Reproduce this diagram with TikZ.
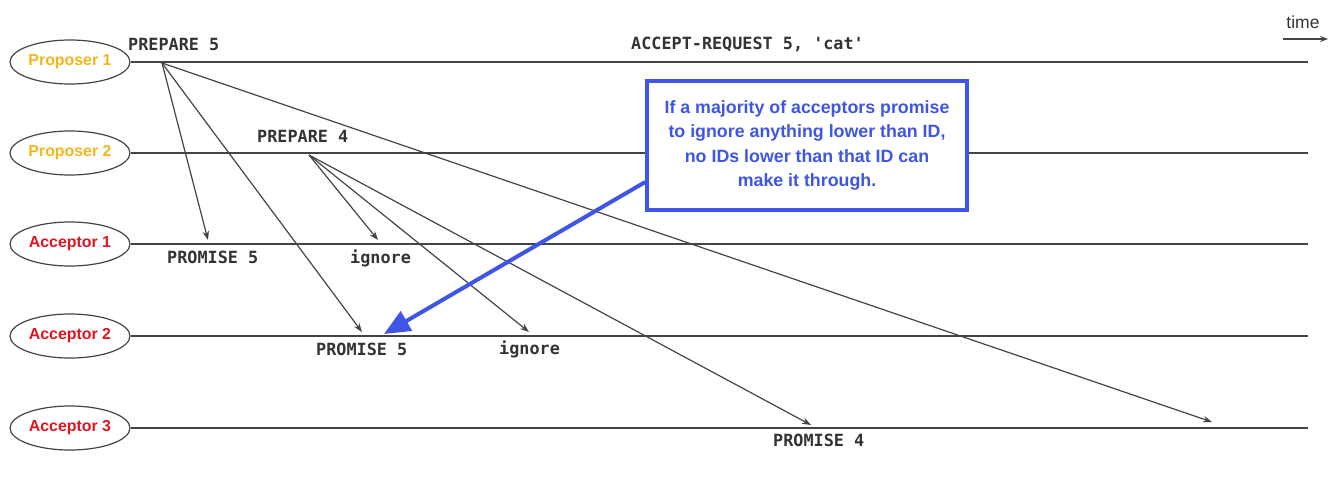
\documentclass[tikz,border=0pt]{standalone}
\usepackage{fontspec}
\setmainfont{Liberation Sans}
\newfontfamily\monof{DejaVu Sans Mono}
\usetikzlibrary{shapes.geometric,arrows.meta}
\definecolor{propc}{HTML}{F2B619}
\definecolor{accc}{HTML}{E0141E}
\definecolor{linec}{HTML}{444444}
\definecolor{txtc}{HTML}{333333}
\definecolor{bluec}{HTML}{3F55E6}
\tikzset{
  actor/.style={ellipse,draw=linec,line width=1.2pt,minimum width=120pt,minimum height=44pt,inner sep=0pt,font=\fontsize{15.9}{18}\selectfont\bfseries},
  timeline/.style={draw=linec,line width=1.3pt},
  msg/.style={draw=linec,line width=1.2pt,-{Stealth[length=9pt,width=6.5pt]}},
  lbl/.style={anchor=west,inner sep=0pt,text=txtc,font=\monof\fontsize{16.8}{18}\selectfont\bfseries},
  note/.style={draw=bluec,line width=3.5pt,fill=white,text=bluec,align=center,font=\fontsize{17.8}{24.5}\selectfont\bfseries,minimum width=320pt,minimum height=129pt,inner sep=0pt},
  bluearrow/.style={draw=bluec,line width=4pt,-{Triangle[length=26pt,width=22pt]}}
}
\begin{document}
\begin{tikzpicture}[x=1pt,y=-1pt]
\useasboundingbox (0,0) rectangle (1340,483);
% actors
\node[actor,text=propc] (p1) at (70,62) {Proposer 1};
\node[actor,text=propc] (p2) at (70,153) {Proposer 2};
\node[actor,text=accc] (a1) at (70,244) {Acceptor 1};
\node[actor,text=accc] (a2) at (70,336) {Acceptor 2};
\node[actor,text=accc] (a3) at (70,428) {Acceptor 3};
% line ends
\coordinate (e1) at (1308,62);
\coordinate (e2) at (1308,153);
\coordinate (e3) at (1308,244);
\coordinate (e4) at (1308,336);
\coordinate (e5) at (1308,428);
\draw[timeline] (p1.east) -- (e1);
\draw[timeline] (p2.east) -- (e2);
\draw[timeline] (a1.east) -- (e3);
\draw[timeline] (a2.east) -- (e4);
\draw[timeline] (a3.east) -- (e5);
% time
\node[inner sep=0pt,text=txtc,font=\fontsize{17.5}{18}\selectfont] (time) at (1303,22) {time};
\coordinate (t0) at (1283,39);
\coordinate (t1) at (1328,39);
\draw[draw=linec,line width=1.3pt,-{Stealth[length=8pt,width=6pt]}] (t0) -- (t1);
% message sources and targets
\coordinate (s1) at (162,63);
\coordinate (s2) at (309,155);
\coordinate (t11) at (208,240);
\coordinate (t12) at (362,332);
\coordinate (t13) at (1212,422);
\coordinate (t21) at (378,240);
\coordinate (t22) at (529,332);
\coordinate (t23) at (811,425);
\draw[msg] (s1) -- (t11);
\draw[msg] (s1) -- (t12);
\draw[msg] (s1) -- (t13);
\draw[msg] (s2) -- (t21);
\draw[msg] (s2) -- (t22);
\draw[msg] (s2) -- (t23);
% labels
\node[lbl] (l1) at (128,44) {PREPARE 5};
\node[lbl] (l2) at (631,44) {ACCEPT-REQUEST 5, 'cat'};
\node[lbl] (l3) at (257,136) {PREPARE 4};
\node[lbl] (l4) at (167,257) {PROMISE 5};
\node[lbl] (l5) at (350,258) {ignore};
\node[lbl] (l6) at (316,349) {PROMISE 5};
\node[lbl] (l7) at (499,349) {ignore};
\node[lbl] (l8) at (773,440) {PROMISE 4};
% note
\node[note] (note) at (807,145.5) {If a majority of acceptors promise\\to ignore anything lower than ID,\\no IDs lower than that ID can\\make it through.};
\coordinate (bt) at (384,334);
\draw[bluearrow] ([yshift=-36.5pt]note.west) -- (bt);
\end{tikzpicture}
\end{document}
